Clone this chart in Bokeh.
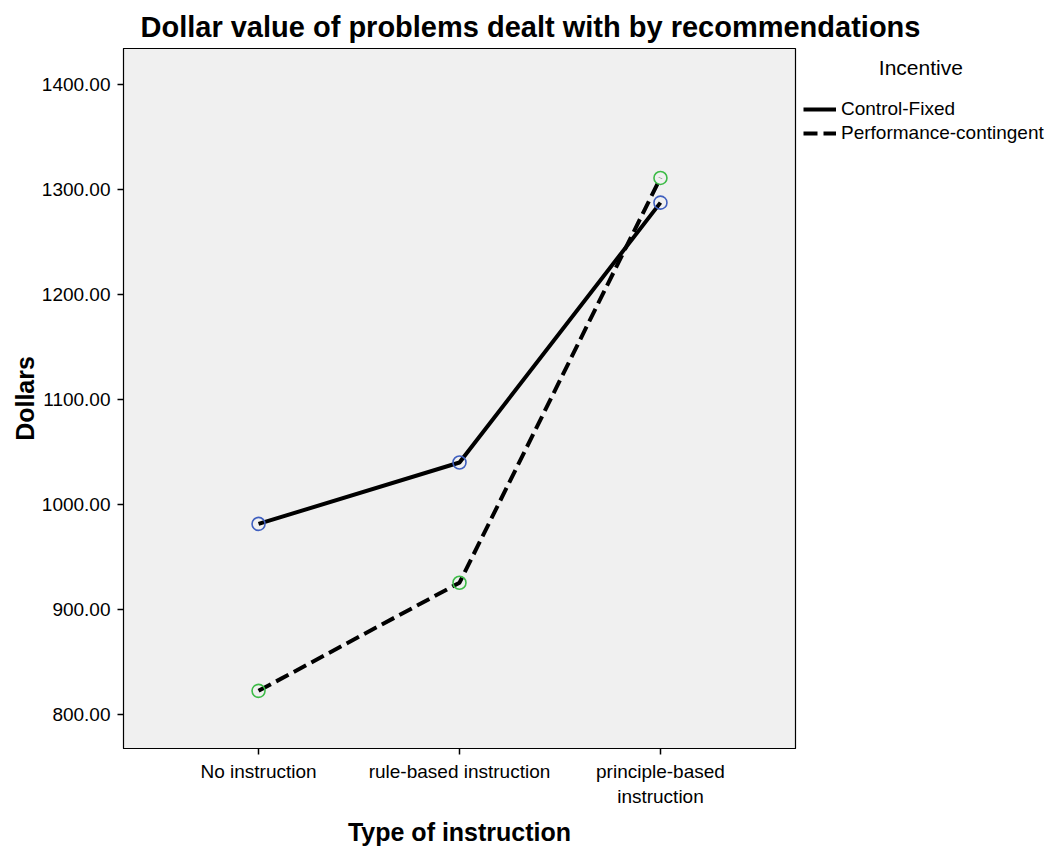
from bokeh.plotting import figure
from bokeh.models import Range1d, FixedTicker, NumeralTickFormatter, Legend, LegendItem
from bokeh.embed import file_html
from bokeh.resources import INLINE

categories = ["No instruction", "rule-based instruction", "principle-based\ninstruction"]
series_names = ["Control-Fixed", "Performance-contingent"]
legend_title = "Incentive"
control_fixed = [981.5, 1040.0, 1287.5]
performance_contingent = [822.5, 925.5, 1311.0]
y_ticks = [800, 900, 1000, 1100, 1200, 1300, 1400]

x = list(range(1, len(categories) + 1))
FONT = "'Liberation Sans', Arial, sans-serif"

p = figure(frame_width=672, frame_height=700, output_backend="svg", toolbar_location=None,
           x_range=Range1d(0.328, 3.672), y_range=Range1d(767.6, 1434.3),
           min_border_left=123, min_border_right=248, min_border_top=48, min_border_bottom=92,
           background_fill_color="#f0f0f0", border_fill_color="white")

p.outline_line_color = "black"
p.outline_line_width = 1.2
p.grid.visible = False

p.title.text = "Dollar value of problems dealt with by recommendations"
p.title.text_font = FONT
p.title.text_font_size = "29px"
p.title.text_font_style = "bold"
p.title.text_color = "black"
p.title.align = "left"
p.title.offset = 17
p.title.standoff = 11

# axes
p.xaxis.ticker = FixedTicker(ticks=x)
p.xaxis.major_label_overrides = {xi: c for xi, c in zip(x, categories)}
p.yaxis.ticker = FixedTicker(ticks=y_ticks)
p.yaxis.formatter = NumeralTickFormatter(format="0.00")
for ax in (p.xaxis[0], p.yaxis[0]):
    ax.major_tick_in = 0
    ax.major_tick_out = 6
    ax.major_tick_line_color = "black"
    ax.major_tick_line_width = 1.5
    ax.minor_tick_line_color = None
    ax.axis_line_color = "black"
    ax.major_label_text_font = FONT
    ax.major_label_text_font_size = "19px"
    ax.major_label_text_color = "black"
    ax.axis_label_text_font = FONT
    ax.axis_label_text_font_size = "25px"
    ax.axis_label_text_font_style = "bold"
    ax.axis_label_text_color = "black"
p.xaxis.axis_label = "Type of instruction"
p.yaxis.axis_label = "Dollars"
p.yaxis.major_label_standoff = 7
p.yaxis.axis_label_standoff = 0
p.xaxis.major_label_standoff = 6
p.xaxis.axis_label_standoff = 8

r1 = p.line(x, control_fixed, line_color="black", line_width=4)
r2 = p.line(x, performance_contingent, line_color="black", line_width=4, line_dash="14 6")
p.scatter(x, control_fixed, marker="circle", size=13, fill_color=None,
          line_color="#3f5fbf", line_width=1.6)
p.scatter(x, performance_contingent, marker="circle", size=13, fill_color=None,
          line_color="#3dbb47", line_width=1.6)

legend = Legend(items=[LegendItem(label=series_names[0], renderers=[r1]),
                       LegendItem(label=series_names[1], renderers=[r2])],
                location="top_left", padding=0, margin=8, spacing=2,
                title="\u00a0" * 13 + legend_title, title_text_font=FONT,
                title_text_font_size="21px", title_text_font_style="normal",
                title_text_color="black", title_standoff=18,
                glyph_width=33, glyph_height=20, label_height=20, label_standoff=5,
                label_text_font=FONT, label_text_font_size="19px", label_text_color="black",
                border_line_color=None, background_fill_alpha=0)
p.add_layout(legend, "right")

open("out.html", "w").write(file_html(p, INLINE))
